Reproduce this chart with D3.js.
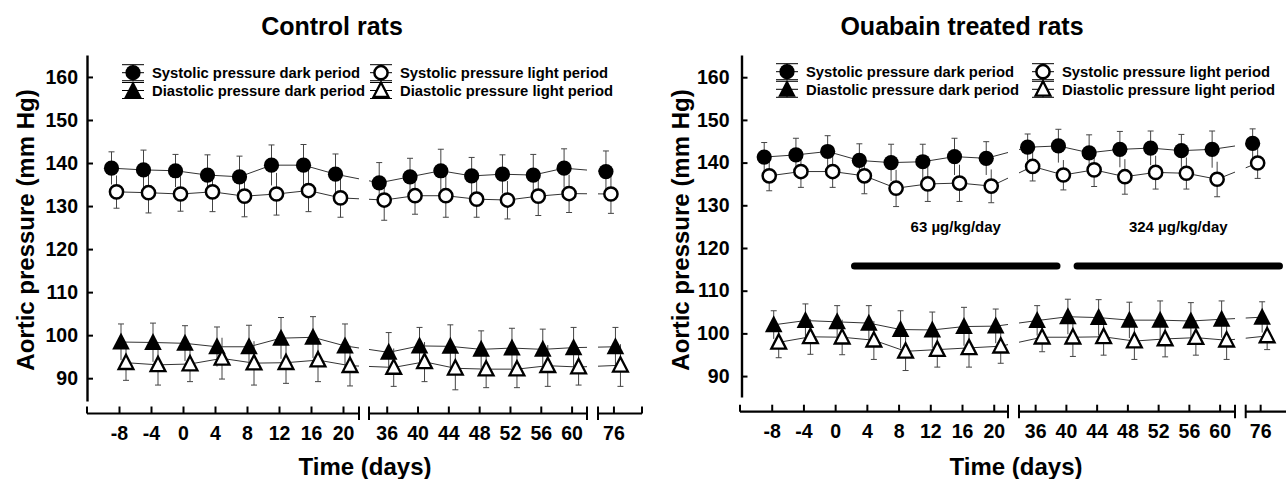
<!DOCTYPE html>
<html>
<head>
<meta charset="utf-8">
<script src="https://cdn.jsdelivr.net/npm/d3@7"></script>
<style>
body { margin: 0; background: #fff; }
svg text { font-family: "Liberation Sans", Arial, sans-serif; font-weight: bold; fill: #000; }
</style>
</head>
<body>
<script>
// measurement days
const days = [-8, -4, 0, 4, 8, 12, 16, 20, 36, 40, 44, 48, 52, 56, 60, 76];
const yTicks = [90, 100, 110, 120, 130, 140, 150, 160];

// control rats - mean and SEM (mm Hg)
const ctlSysDark   = [138.8, 138.4, 138.2, 137.2, 136.8, 139.5, 139.5, 137.4, 135.4, 136.8, 138.2, 137.0, 137.4, 137.2, 138.8, 138.0];
const ctlSysDarkSE = [3.8, 4.6, 3.8, 4.7, 4.8, 4.7, 4.8, 4.7, 4.7, 4.3, 5.0, 4.3, 4.5, 4.8, 4.5, 4.8];
const ctlSysLight   = [133.3, 133.1, 132.8, 133.3, 132.3, 132.8, 133.6, 131.9, 131.4, 132.4, 132.4, 131.6, 131.4, 132.3, 132.9, 132.8];
const ctlSysLightSE = [3.8, 4.7, 4.0, 4.6, 4.8, 4.9, 4.9, 4.5, 4.7, 4.3, 5.0, 4.2, 4.4, 4.5, 4.4, 4.5];
const ctlDiaDark   = [98.4, 98.3, 98.1, 97.3, 97.3, 99.3, 99.5, 97.5, 96.0, 97.5, 97.4, 96.7, 97.0, 96.7, 97.1, 97.3];
const ctlDiaDarkSE = [4.2, 4.5, 4.1, 4.6, 5.0, 4.8, 4.8, 5.1, 4.6, 4.3, 5.0, 4.3, 4.6, 4.7, 4.7, 4.5];
const ctlDiaLight   = [93.6, 93.1, 93.3, 94.6, 93.5, 93.6, 94.2, 92.9, 92.5, 93.8, 92.3, 92.1, 92.1, 92.9, 92.6, 93.0];
const ctlDiaLightSE = [4.1, 4.7, 4.1, 4.8, 5.1, 4.8, 5.0, 4.7, 4.4, 4.6, 5.0, 4.3, 4.3, 4.8, 4.2, 4.9];

// ouabain treated rats
const ouaSysDark   = [141.3, 141.8, 142.6, 140.5, 140.0, 140.2, 141.4, 141.0, 143.6, 143.9, 142.3, 143.1, 143.4, 142.8, 143.1, 144.5];
const ouaSysDarkSE = [3.4, 3.9, 3.7, 3.9, 4.3, 4.1, 4.3, 3.9, 3.1, 3.9, 4.2, 4.2, 4.0, 3.8, 4.3, 3.4];
const ouaSysLight   = [136.9, 137.9, 137.9, 136.9, 134.0, 135.0, 135.2, 134.5, 139.1, 137.1, 138.3, 136.7, 137.7, 137.5, 136.1, 139.9];
const ouaSysLightSE = [3.5, 3.7, 3.7, 4.2, 4.3, 4.1, 4.3, 3.9, 3.4, 3.5, 3.9, 4.1, 3.9, 3.7, 4.1, 3.6];
const ouaDiaDark   = [102.0, 103.0, 102.7, 102.4, 100.9, 100.8, 101.6, 101.7, 103.0, 103.9, 103.7, 103.1, 103.1, 102.9, 103.3, 103.8];
const ouaDiaDarkSE = [3.3, 3.9, 3.8, 4.1, 4.4, 4.2, 4.5, 4.0, 3.5, 4.1, 4.2, 4.2, 4.5, 4.3, 4.3, 3.6];
const ouaDiaLight   = [97.9, 99.2, 99.1, 98.4, 95.8, 96.2, 96.6, 97.0, 99.1, 99.1, 99.2, 98.2, 98.7, 99.0, 98.4, 99.4];
const ouaDiaLightSE = [3.6, 4.1, 4.1, 4.5, 4.5, 4.1, 4.5, 4.0, 3.4, 4.5, 4.3, 4.3, 4.2, 4.1, 4.5, 3.2];

// ouabain doses (start / end day of the treatment bar)
const doseLabels = ["63 µg/kg/day", "324 µg/kg/day"];
const doseFrom = [2, 41];
const doseTo = [39.3, 79];

const legendNames = ["Systolic pressure dark period", "Diastolic pressure dark period",
                     "Systolic pressure light period", "Diastolic pressure light period"];

// series look: shape, fill, small x shift so markers don't overlap, side of the SEM cap
const seriesStyle = [
  {shape: "circle",   filled: true,  dx: -7.5, cap: "top"},
  {shape: "triangle", filled: true,  dx: 2,    cap: "top"},
  {shape: "circle",   filled: false, dx: -2.5, cap: "bottom"},
  {shape: "triangle", filled: false, dx: 7,    cap: "bottom"}
];

const panels = [
  {
    title: "Control rats", titleX: 332,
    means: [ctlSysDark, ctlDiaDark, ctlSysLight, ctlDiaLight],
    ses: [ctlSysDarkSE, ctlDiaDarkSE, ctlSysLightSE, ctlDiaLightSE],
    segs: [[-12, 22], [33.7, 62], [74, 79.7]],
    segPx: [[87, 359], [369, 587], [598, 642]],
    ends: ["up", "cap", "cap", "cap", "cap", "up"],
    yDomain: [84.7, 165.1], yRange: [401, 55],
    axisX: 87, xAxisY: 413.5, yPad: 9,
    legX: [133, 381], legY: [72.7, 90.5], timeX: 365,
    doses: false
  },
  {
    title: "Ouabain treated rats", titleX: 962,
    means: [ouaSysDark, ouaDiaDark, ouaSysLight, ouaDiaLight],
    ses: [ouaSysDarkSE, ouaDiaDarkSE, ouaSysLightSE, ouaDiaLightSE],
    segs: [[-12, 21.8], [33.9, 62], [74.1, 79.4]],
    segPx: [[740, 1008], [1019, 1235], [1245.7, 1286]],
    ends: ["up", "cap", "cap", "cap", "cap", "none"],
    yDomain: [85.1, 165.2], yRange: [397, 55],
    axisX: 741.5, xAxisY: 411.7, yPad: 12,
    legX: [787, 1043], legY: [71.7, 89.3], timeX: 1016,
    doses: true
  }
];

const svg = d3.select("body").append("svg")
  .attr("width", 1286)
  .attr("height", 479);

function triPath(big) {
  return big ? "M0,-9.5L8.8,7.5L-8.8,7.5Z" : "M0,-8L7.4,6.3L-7.4,6.3Z";
}

function drawMarker(g, st, cx, cy) {
  if (st.shape === "circle") {
    g.append("circle")
      .attr("cx", cx).attr("cy", cy)
      .attr("r", st.filled ? 7.6 : 6.6)
      .attr("fill", st.filled ? "#000" : "#fff")
      .attr("stroke", "#000")
      .attr("stroke-width", st.filled ? 0 : 2.5);
  } else {
    g.append("path")
      .attr("d", triPath(st.filled))
      .attr("transform", "translate(" + cx + "," + cy + ")")
      .attr("fill", st.filled ? "#000" : "#fff")
      .attr("stroke", "#000")
      .attr("stroke-width", st.filled ? 0 : 2.3);
  }
}

panels.forEach(function (p, pi) {
  const x = d3.scaleLinear().domain(p.segs.flat()).range(p.segPx.flat());
  const y = d3.scaleLinear().domain(p.yDomain).range(p.yRange);
  const g = svg.append("g").attr("class", "panel" + pi);

  // title
  g.append("text")
    .attr("x", p.titleX).attr("y", 35)
    .attr("text-anchor", "middle")
    .style("font-size", "25px")
    .text(p.title);

  // y axis
  const yAxis = d3.axisLeft(y)
    .tickValues(yTicks)
    .tickSize(-6)
    .tickSizeOuter(0)
    .tickPadding(p.yPad)
    .tickFormat(d3.format("d"));
  const ya = g.append("g")
    .attr("transform", "translate(" + p.axisX + ",0)")
    .call(yAxis);
  ya.select(".domain").attr("stroke-width", 2.4);
  ya.selectAll(".tick line").attr("stroke-width", 2);
  ya.selectAll(".tick text")
    .style("font-size", "19.5px")
    .style("font-family", "Liberation Sans, Arial, sans-serif")
    .style("font-weight", "bold");

  g.append("text")
    .attr("transform", "translate(" + (p.axisX - 53) + "," + 230 + ") rotate(-90)")
    .attr("text-anchor", "middle")
    .style("font-size", "24px")
    .text("Aortic pressure (mm Hg)");

  // broken x axis, one piece per segment
  p.segs.forEach(function (s, si) {
    const ticks = days.filter(d => d >= s[0] && d <= s[1]);
    const xAxis = d3.axisBottom(x)
      .tickValues(ticks)
      .tickSize(-7)
      .tickSizeOuter(0)
      .tickPadding(12.5)
      .tickFormat(d => String(d));
    const xa = g.append("g")
      .attr("transform", "translate(0," + p.xAxisY + ")")
      .call(xAxis);
    xa.select(".domain").remove();
    xa.selectAll(".tick line").attr("stroke-width", 2);
    xa.selectAll(".tick text")
      .style("font-size", "19.5px")
      .style("font-family", "Liberation Sans, Arial, sans-serif")
      .style("font-weight", "bold");
    xa.append("line")
      .attr("x1", x(s[0])).attr("x2", x(s[1]))
      .attr("stroke", "#000").attr("stroke-width", 2.2);
    [0, 1].forEach(function (k) {
      const kind = p.ends[si * 2 + k];
      if (kind === "none") return;
      xa.append("line")
        .attr("x1", x(s[k])).attr("x2", x(s[k]))
        .attr("y1", -7).attr("y2", kind === "cap" ? 6.5 : 0)
        .attr("stroke", "#000").attr("stroke-width", 2);
    });
  });

  g.append("text")
    .attr("x", p.timeX).attr("y", 475)
    .attr("text-anchor", "middle")
    .style("font-size", "24px")
    .text("Time (days)");

  // clip lines to the axis segments
  const clipId = "clip" + pi;
  const clip = g.append("clipPath").attr("id", clipId);
  p.segs.forEach(function (s) {
    clip.append("rect")
      .attr("x", x(s[0])).attr("width", x(s[1]) - x(s[0]))
      .attr("y", 0).attr("height", 479);
  });

  // connecting lines
  p.means.forEach(function (m, k) {
    const st = seriesStyle[k];
    const line = d3.line()
      .x((d, i) => x(days[i]) + st.dx)
      .y(d => y(d));
    g.append("path")
      .attr("d", line(m))
      .attr("fill", "none")
      .attr("stroke", "#333")
      .attr("stroke-width", 1)
      .attr("clip-path", "url(#" + clipId + ")");
  });

  // SEM bars
  p.means.forEach(function (m, k) {
    const st = seriesStyle[k];
    const se = p.ses[k];
    m.forEach(function (v, i) {
      const cx = x(days[i]) + st.dx;
      g.append("line")
        .attr("x1", cx).attr("x2", cx)
        .attr("y1", y(v - se[i])).attr("y2", y(v + se[i]))
        .attr("stroke", "#444").attr("stroke-width", 1);
      const cy = st.cap === "top" ? y(v + se[i]) : y(v - se[i]);
      g.append("line")
        .attr("x1", cx - 3).attr("x2", cx + 3)
        .attr("y1", cy).attr("y2", cy)
        .attr("stroke", "#444").attr("stroke-width", 1);
    });
  });

  // markers
  p.means.forEach(function (m, k) {
    const st = seriesStyle[k];
    m.forEach(function (v, i) {
      drawMarker(g, st, x(days[i]) + st.dx, y(v));
    });
  });

  // legend
  seriesStyle.forEach(function (st, k) {
    const lx = p.legX[Math.floor(k / 2)];
    const ly = p.legY[k % 2];
    const lg = g.append("g");
    lg.append("line")
      .attr("x1", lx).attr("x2", lx).attr("y1", ly - 8).attr("y2", ly + 8)
      .attr("stroke", "#000").attr("stroke-width", 1);
    [-8, 0, 8].forEach(function (o) {
      lg.append("line")
        .attr("x1", lx - 11).attr("x2", lx + 11)
        .attr("y1", ly + o).attr("y2", ly + o)
        .attr("stroke", "#000").attr("stroke-width", 1);
    });
    drawMarker(lg, st, lx, ly);
    lg.append("text")
      .attr("x", lx + 19).attr("y", ly + 5.3)
      .style("font-size", "14.8px")
      .text(legendNames[k]);
  });

  // treatment bars
  if (p.doses) {
    doseLabels.forEach(function (lab, k) {
      const x1 = x(doseFrom[k]), x2 = x(doseTo[k]);
      g.append("line")
        .attr("x1", x1 + 3.5).attr("x2", x2 - 3.5)
        .attr("y1", 266).attr("y2", 266)
        .attr("stroke", "#000")
        .attr("stroke-width", 7)
        .attr("stroke-linecap", "round");
      g.append("text")
        .attr("x", (x1 + x2) / 2).attr("y", 232)
        .attr("text-anchor", "middle")
        .style("font-size", "15px")
        .text(lab);
    });
  }
});
</script>
</body>
</html>
